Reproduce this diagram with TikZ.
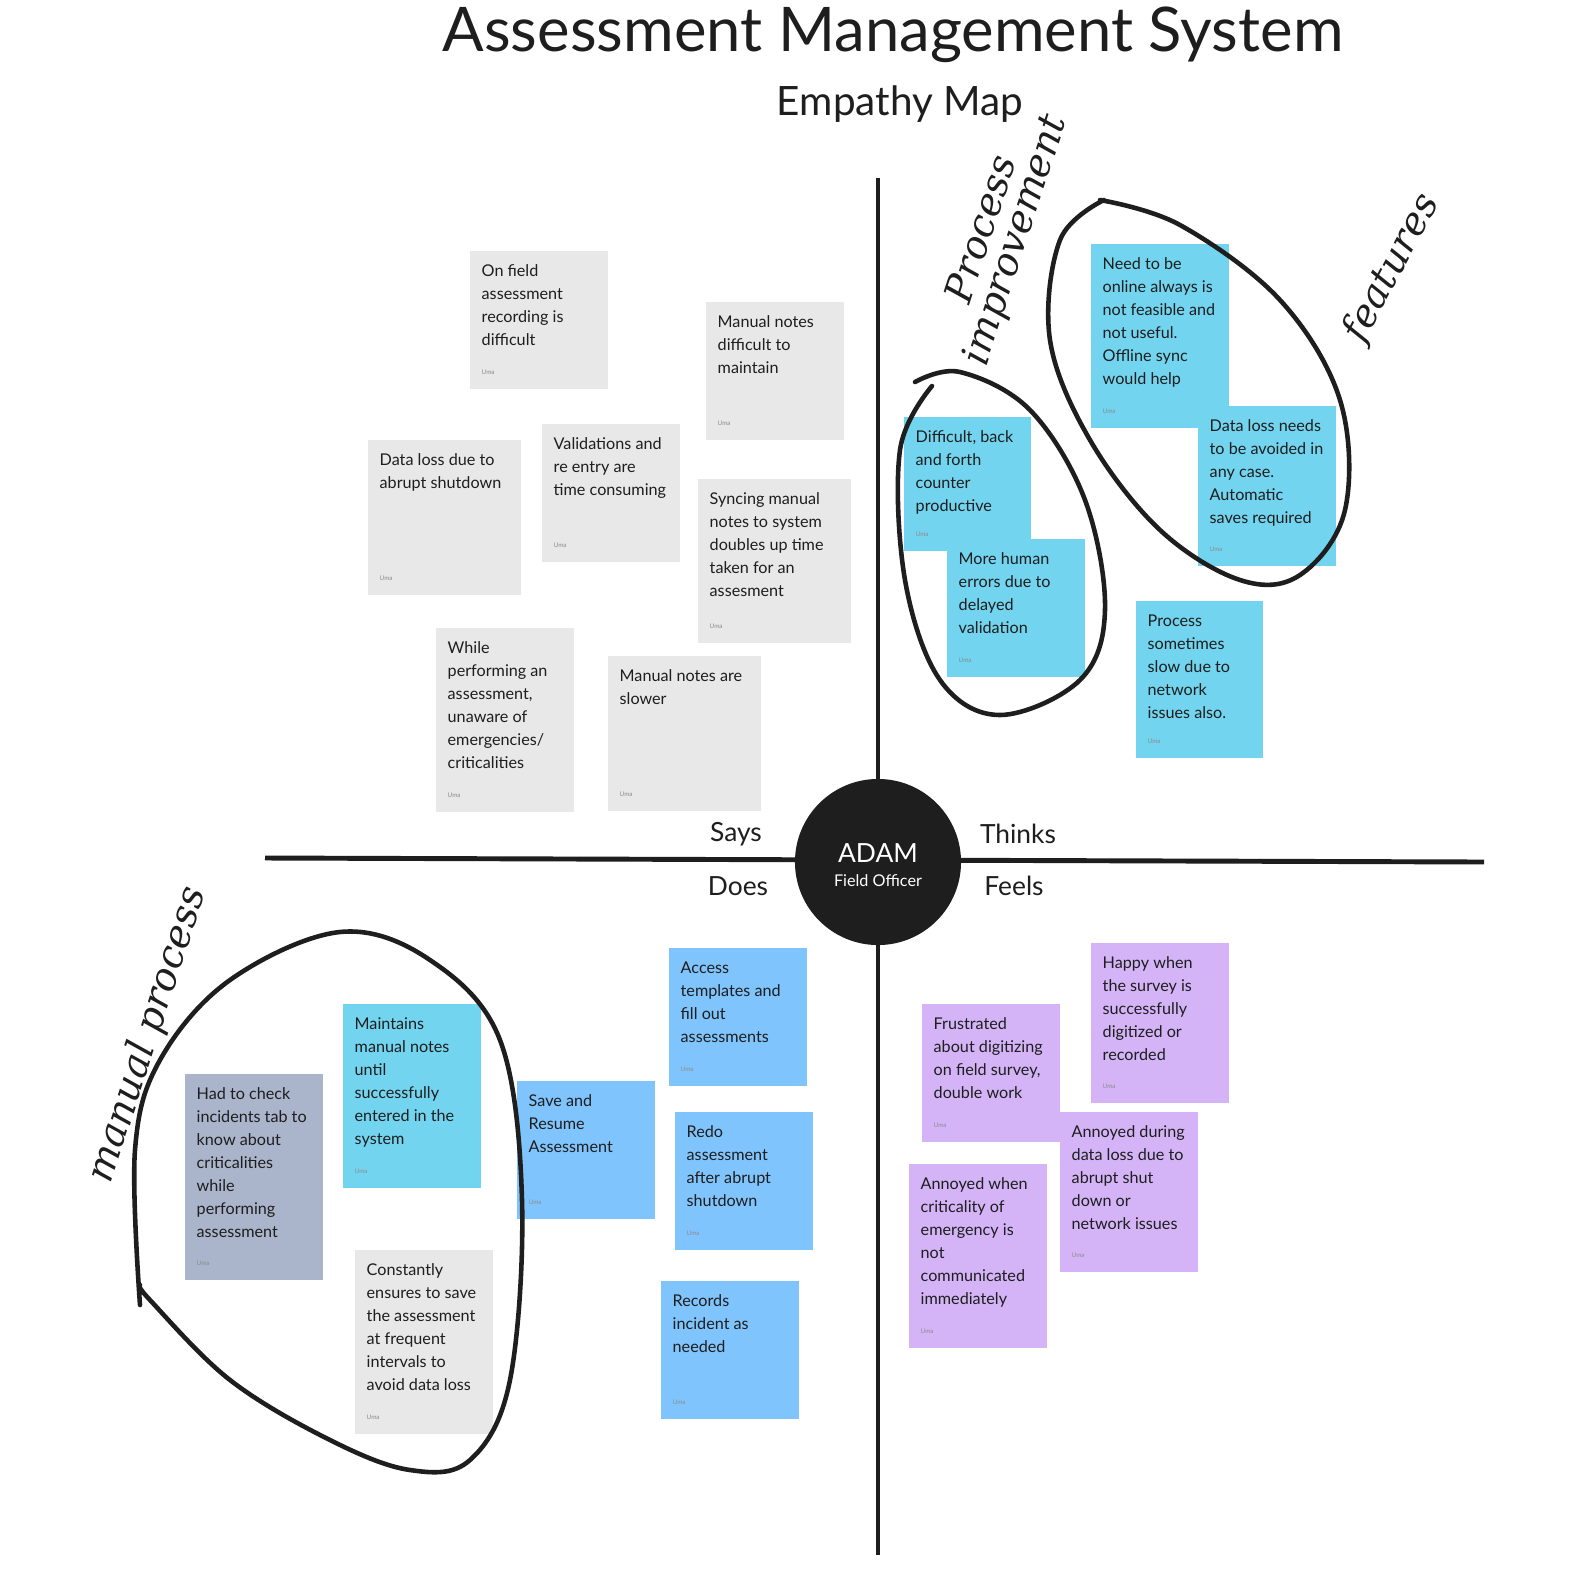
\documentclass[tikz,border=0pt]{standalone}
\usepackage{fontspec}
\setmainfont{Lato}
\newfontfamily\handfont{DejaVu Serif}
\usetikzlibrary{positioning}

\definecolor{grey}{HTML}{E8E8E8}
\definecolor{cyan}{HTML}{72D4EE}
\definecolor{slate}{HTML}{AAB4CB}
\definecolor{sky}{HTML}{80C4FD}
\definecolor{lilac}{HTML}{D4B4F7}
\definecolor{ink}{HTML}{1E1E1E}

\tikzset{
  note/.style={anchor=north west, inner sep=0pt},
  notetext/.style={anchor=north west, inner sep=0pt, align=left, text=ink, font=\fontsize{4.6}{6.55}\selectfont},
  uma/.style={anchor=south west, inner sep=0pt, text=black!45, font=\fontsize{1.8}{2}\selectfont},
  quad/.style={text=ink, font=\fontsize{7.5}{9}\selectfont},
  hand/.style={text=ink, font=\handfont\itshape\fontsize{11}{10}\selectfont},
  loop/.style={draw=ink, line width=1.3pt, line cap=round, line join=round}
}

% name, x, y, w, h, colour, text
\newcommand{\sticky}[7]{%
  \node[note, fill=#6, minimum width={#4*0.01cm}, minimum height={#5*0.01cm}] (#1) at (#2,#3) {};
  \node[notetext] at ([shift={(12,14)}]#1.north west) {#7};
  \node[uma] at ([shift={(12,-14)}]#1.south west) {Uma};}

\begin{document}
\begin{tikzpicture}[x=0.01cm,y=-0.01cm]
\useasboundingbox[fill=white] (0,0) rectangle (1594,1596);

% titles
\node[text=ink, font=\fontsize{17.5}{19}\selectfont] (title) at (893,35) {Assessment Management System};
\node[text=ink, font=\fontsize{11.5}{13}\selectfont] (sub) at (900,104) {Empathy Map};

% axes
\coordinate (top) at (878,178);
\coordinate (bottom) at (878,1555);
\coordinate (left) at (265,858);
\coordinate (right) at (1484,862);
\draw[ink, line width=1.4pt] (top) -- (bottom);
\draw[ink, line width=1.4pt] (left) -- (right);
\node[circle, fill=ink, minimum size=1.66cm, inner sep=0pt] (user) at (878,862) {};
\node[text=white, font=\fontsize{7.5}{9}\selectfont] (name) at (878,853) {ADAM};
\node[text=white, font=\fontsize{4.6}{6}\selectfont] (role) at (878,881) {Field Officer};

\node[quad] (says) at (736,834) {Says};
\node[quad] (does) at (738,886) {Does};
\node[quad] (thinks) at (1018,834) {Thinks};
\node[quad] (feels) at (1014,886) {Feels};

% says
\sticky{s1}{469}{250}{138}{138}{grey}{On field\\assessment\\recording is\\difficult}
\sticky{s2}{705}{301}{138}{138}{grey}{Manual notes\\difficult to\\maintain}
\sticky{s3}{367}{439}{153}{155}{grey}{Data loss due to\\abrupt shutdown}
\sticky{s4}{541}{423}{138}{138}{grey}{Validations and\\re entry are\\time consuming}
\sticky{s5}{697}{478}{153}{164}{grey}{Syncing manual\\notes to system\\doubles up time\\taken for an\\assesment}
\sticky{s6}{435}{627}{138}{184}{grey}{While\\performing an\\assessment,\\unaware of\\emergencies/\\criticalities}
\sticky{s7}{607}{655}{153}{155}{grey}{Manual notes are\\slower}

% thinks
\sticky{t1}{1090}{243}{138}{184}{cyan}{Need to be\\online always is\\not feasible and\\not useful.\\Offline sync\\would help}
\sticky{t2}{1197}{405}{138}{160}{cyan}{Data loss needs\\to be avoided in\\any case.\\Automatic\\saves required}
\sticky{t3}{903}{416}{127}{134}{cyan}{Difficult, back\\and forth\\counter\\productive}
\sticky{t4}{946}{538}{138}{138}{cyan}{More human\\errors due to\\delayed\\validation}
\sticky{t5}{1135}{600}{127}{157}{cyan}{Process\\sometimes\\slow due to\\network\\issues also.}

% does
\sticky{d1}{184}{1073}{138}{206}{slate}{Had to check\\incidents tab to\\know about\\criticalities\\while\\performing\\assessment}
\sticky{d2}{342}{1003}{138}{184}{cyan}{Maintains\\manual notes\\until\\successfully\\entered in the\\system}
\sticky{d3}{354}{1249}{138}{184}{grey}{Constantly\\ensures to save\\the assessment\\at frequent\\intervals to\\avoid data loss}
\sticky{d4}{668}{947}{138}{138}{sky}{Access\\templates and\\fill out\\assessments}
\sticky{d5}{516}{1080}{138}{138}{sky}{Save and\\Resume\\Assessment}
\sticky{d6}{674}{1111}{138}{138}{sky}{Redo\\assessment\\after abrupt\\shutdown}
\sticky{d7}{660}{1280}{138}{138}{sky}{Records\\incident as\\needed}

% feels
\sticky{f1}{1090}{942}{138}{160}{lilac}{Happy when\\the survey is\\successfully\\digitized or\\recorded}
\sticky{f2}{921}{1003}{138}{138}{lilac}{Frustrated\\about digitizing\\on field survey,\\double work}
\sticky{f3}{1059}{1111}{138}{160}{lilac}{Annoyed during\\data loss due to\\abrupt shut\\down or\\network issues}
\sticky{f4}{908}{1163}{138}{184}{lilac}{Annoyed when\\criticality of\\emergency is\\not\\communicated\\immediately}

% hand drawn groups
\draw[loop] plot[smooth, tension=0.6] coordinates {(915,382) (960,372) (1030,410) (1085,500) (1105,610) (1080,680) (1000,715) (940,680) (905,580) (900,450) (932,386)};
\draw[loop] plot[smooth, tension=0.6] coordinates {(1100,200) (1180,225) (1280,300) (1340,400) (1345,510) (1300,575) (1240,580) (1160,530) (1090,440) (1050,340) (1060,240) (1104,200)};
\draw[loop] plot[smooth, tension=0.6] coordinates {(140,1305) (135,1150) (160,1060) (230,980) (340,932) (430,960) (500,1040) (522,1200) (510,1380) (470,1460) (410,1470) (330,1440) (230,1380) (150,1300) (140,1285)};

\node[hand, rotate=72, align=center] (lblproc) at (1000,235) {Process\\improvement};
\node[hand, rotate=62] (lblfeat) at (1392,268) {features};
\node[hand, rotate=72] (lblman) at (148,1035) {manual process};
\end{tikzpicture}
\end{document}
